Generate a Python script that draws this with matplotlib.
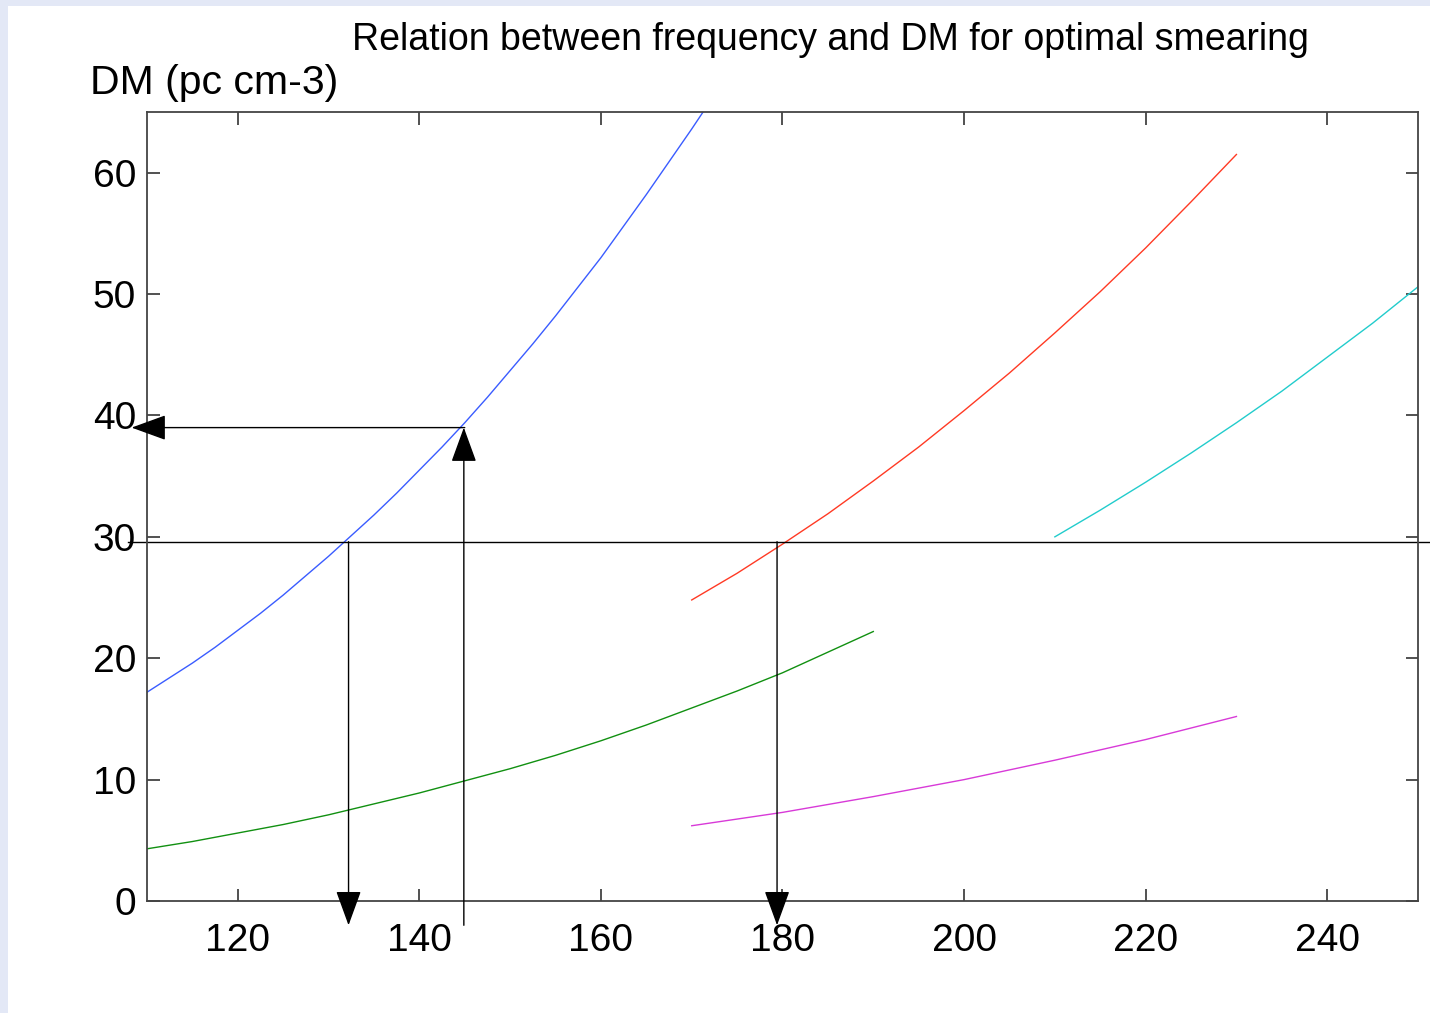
import matplotlib
matplotlib.use("Agg")
import matplotlib.pyplot as plt
from matplotlib.patches import Rectangle

plt.rcParams['font.family'] = ['Liberation Sans', 'DejaVu Sans']

# ---- data ----
blue_f = [110, 112.5, 115, 117.5, 120, 122.5, 125, 127.5, 130, 132.5, 135, 137.5, 140,
          142.5, 145, 147.5, 150, 152.5, 155, 157.5, 160, 162.5, 165, 167.5, 170, 172.5]
blue_dm = [17.2, 18.4, 19.6, 20.9, 22.3, 23.7, 25.2, 26.8, 28.4, 30.1, 31.8, 33.6, 35.5,
           37.4, 39.4, 41.5, 43.7, 45.9, 48.2, 50.6, 53.0, 55.6, 58.2, 60.9, 63.6, 66.4]

red_f = [170, 175, 180, 185, 190, 195, 200, 205, 210, 215, 220, 225, 230]
red_dm = [24.8, 27.0, 29.4, 31.9, 34.6, 37.4, 40.4, 43.5, 46.8, 50.2, 53.8, 57.6, 61.5]

cyan_f = [210, 215, 220, 225, 230, 235, 240, 245, 250]
cyan_dm = [30.0, 32.2, 34.5, 36.9, 39.4, 42.0, 44.8, 47.6, 50.6]

green_f = [110, 115, 120, 125, 130, 135, 140, 145, 150, 155, 160, 165, 170, 175, 180, 185, 190]
green_dm = [4.3, 4.9, 5.6, 6.3, 7.1, 8.0, 8.9, 9.9, 10.9, 12.0, 13.2, 14.5, 15.9, 17.3, 18.8, 20.5, 22.2]

magenta_f = [170, 180, 190, 200, 210, 220, 230]
magenta_dm = [6.2, 7.3, 8.6, 10.0, 11.6, 13.3, 15.2]

x_ticks = [120, 140, 160, 180, 200, 220, 240]
y_ticks = [0, 10, 20, 30, 40, 50, 60]

# guide lines / arrows (start -> tip) in data units
hline_dm = 29.6
hline_f = [107.9, 251.4]
arrows = [
    ((145.0, 39.0), (108.3, 39.0)),    # left arrow towards DM axis
    ((132.2, 29.6), (132.2, -2.0)),    # down arrow
    ((144.9, -2.0), (144.9, 39.0)),    # up arrow
    ((179.4, 29.6), (179.4, -2.0)),    # down arrow
]

title = "Relation between frequency and DM for optimal smearing"
ylabel = "DM (pc cm-3)"

# ---- figure ----
fig = plt.figure(figsize=(14.3, 10.13), dpi=100)
fig.patch.set_facecolor('#e3e8f6')
fig.patches.append(Rectangle((8 / 1430, 0), 1 - 8 / 1430, 1 - 6 / 1013,
                             transform=fig.transFigure, facecolor='white',
                             edgecolor='none', zorder=-5))

ax = fig.add_axes([147 / 1430, 1 - 901 / 1013, (1418 - 147) / 1430, (901 - 112) / 1013])
ax.set_zorder(1)
ax.set_xlim(110, 250)
ax.set_ylim(0, 65)

lw = 1.0
ax.plot(blue_f, blue_dm, color='#3a5cff', lw=lw)
ax.plot(red_f, red_dm, color='#ff3a24', lw=lw)
ax.plot(cyan_f, cyan_dm, color='#22cccc', lw=lw)
ax.plot(green_f, green_dm, color='#119011', lw=lw)
ax.plot(magenta_f, magenta_dm, color='#d83ad8', lw=lw)

ax.plot(hline_f, [hline_dm, hline_dm], color='black', lw=1.0, clip_on=False)
for start, tip in arrows:
    ax.annotate('', xy=tip, xytext=start, xycoords='data', annotation_clip=False,
                arrowprops=dict(arrowstyle='-|>,head_length=1.1,head_width=0.4',
                                mutation_scale=20, lw=1.0, color='black',
                                shrinkA=0, shrinkB=0))

ax.set_xticks(x_ticks)
ax.set_yticks(y_ticks)
ax.tick_params(direction='in', length=9, width=1.2, top=True, right=True,
               labelsize=28, color='#333333')
ax.tick_params(axis='x', pad=16)
ax.tick_params(axis='y', pad=8)
for s in ax.spines.values():
    s.set_linewidth(1.3)
    s.set_color('#444444')

fig.text(830 / 1430, 1 - 40 / 1013, title, ha='center', va='center', fontsize=27)
fig.text(90 / 1430, 1 - 83 / 1013, ylabel, ha='left', va='center', fontsize=29.5)

fig.savefig('out.png', dpi=100)
